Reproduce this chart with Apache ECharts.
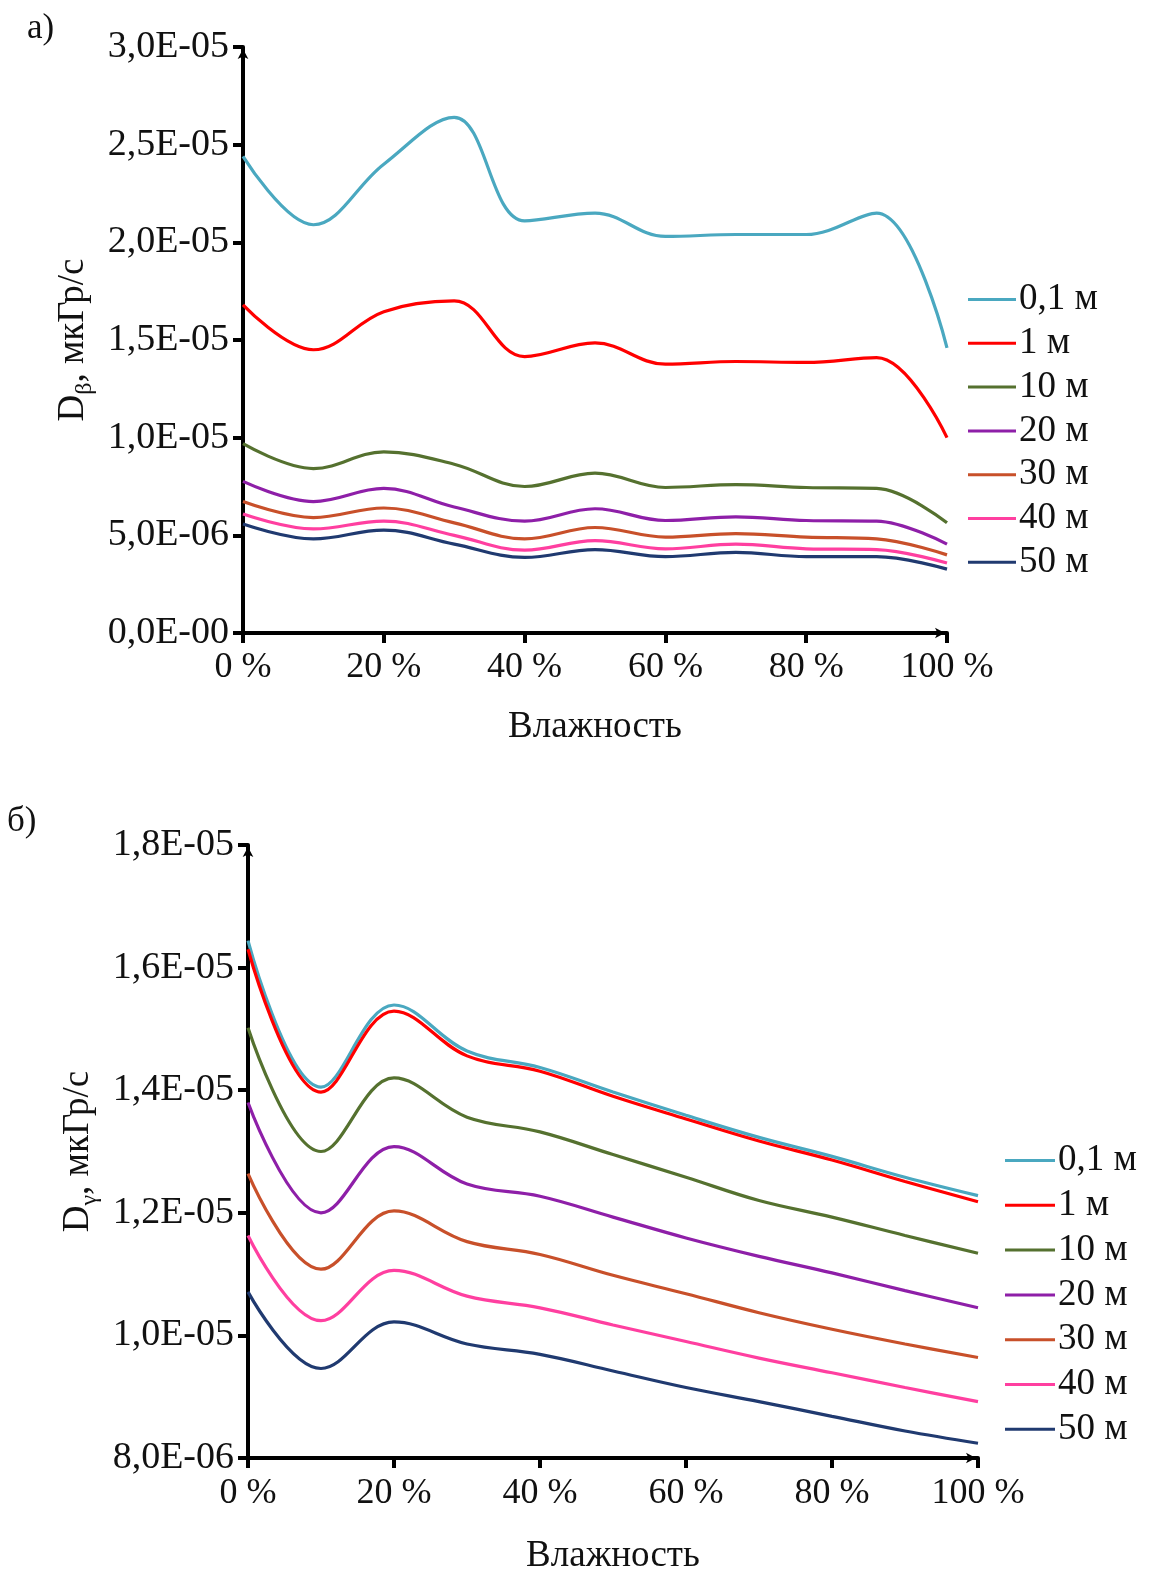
<!DOCTYPE html>
<html>
<head>
<meta charset="utf-8">
<script src="https://cdn.jsdelivr.net/npm/echarts@6/dist/echarts.min.js"></script>
<style>
html,body{margin:0;padding:0;background:#fff;overflow:hidden;}
#c{width:1155px;height:1574px;}
</style>
</head>
<body>
<div id="c"></div>
<script>
// Humidity, %
const humidity = [0, 10, 20, 30, 40, 50, 60, 70, 80, 90, 100];
const seriesNames = ['0,1 м', '1 м', '10 м', '20 м', '30 м', '40 м', '50 м'];
const xTickLabels = ['0 %', '20 %', '40 %', '60 %', '80 %', '100 %'];

// Chart а): D_beta, units of 1E-05 мкГр/с
const yTickLabelsA = ['0,0E-00', '5,0E-06', '1,0E-05', '1,5E-05', '2,0E-05', '2,5E-05', '3,0E-05'];
const betaD01 = [2.44, 2.09, 2.40, 2.64, 2.11, 2.15, 2.03, 2.04, 2.04, 2.15, 1.46];
const betaD1  = [1.68, 1.45, 1.645, 1.70, 1.415, 1.485, 1.376, 1.39, 1.385, 1.41, 1.00];
const betaD10 = [0.969, 0.842, 0.927, 0.864, 0.75, 0.818, 0.745, 0.76, 0.745, 0.74, 0.564];
const betaD20 = [0.776, 0.673, 0.74, 0.645, 0.573, 0.636, 0.576, 0.595, 0.576, 0.573, 0.455];
const betaD30 = [0.673, 0.591, 0.64, 0.564, 0.482, 0.54, 0.491, 0.509, 0.491, 0.482, 0.40];
const betaD40 = [0.609, 0.533, 0.573, 0.50, 0.424, 0.473, 0.431, 0.455, 0.431, 0.427, 0.358];
const betaD50 = [0.558, 0.482, 0.527, 0.455, 0.387, 0.427, 0.391, 0.413, 0.391, 0.391, 0.327];

// Chart б): D_gamma, units of 1E-05 мкГр/с
const yTickLabelsB = ['8,0E-06', '1,0E-05', '1,2E-05', '1,4E-05', '1,6E-05', '1,8E-05'];
const gammaD01 = [1.644, 1.405, 1.539, 1.464, 1.437, 1.397, 1.359, 1.323, 1.292, 1.258, 1.228];
const gammaD1  = [1.630, 1.397, 1.529, 1.456, 1.431, 1.390, 1.353, 1.317, 1.286, 1.251, 1.218];
const gammaD10 = [1.502, 1.300, 1.420, 1.356, 1.332, 1.295, 1.258, 1.220, 1.193, 1.163, 1.134];
const gammaD20 = [1.380, 1.200, 1.308, 1.247, 1.227, 1.193, 1.159, 1.129, 1.102, 1.073, 1.045];
const gammaD30 = [1.264, 1.108, 1.203, 1.153, 1.132, 1.098, 1.068, 1.037, 1.010, 0.986, 0.964];
const gammaD40 = [1.163, 1.024, 1.106, 1.064, 1.045, 1.017, 0.990, 0.963, 0.939, 0.915, 0.892];
const gammaD50 = [1.071, 0.946, 1.022, 0.986, 0.969, 0.942, 0.915, 0.892, 0.868, 0.844, 0.824];

const colors = ['#4AA8C0', '#FF0000', '#55712F', '#8E1FA8', '#C8502A', '#FF3FA0', '#203A70'];
const betaSets = [betaD01, betaD1, betaD10, betaD20, betaD30, betaD40, betaD50];
const gammaSets = [gammaD01, gammaD1, gammaD10, gammaD20, gammaD30, gammaD40, gammaD50];

const FONT = '"Liberation Serif", "DejaVu Serif", serif';
const SMOOTH = 0.38;

function pairs(arr) { return humidity.map((h, i) => [h, arr[i]]); }

function axisX(gridIndex, gap, margin) {
  return {
    type: 'value', gridIndex: gridIndex, min: 0, max: 100, interval: 20,
    name: 'Влажность', nameLocation: 'middle', nameGap: gap,
    nameTextStyle: { fontFamily: FONT, fontSize: 37, color: '#111' },
    axisLine: { show: true, onZero: false, lineStyle: { color: '#000', width: 4 }, symbol: ['none', 'arrow'], symbolSize: [8, 10], symbolOffset: [0, -2] },
    axisTick: { show: true, inside: false, length: 10, lineStyle: { color: '#000', width: 4 } },
    axisLabel: { fontFamily: FONT, fontSize: 36, color: '#111', margin: margin, formatter: (v) => xTickLabels[Math.round(v / 20)] },
    splitLine: { show: false }
  };
}

function axisY(gridIndex, min, max, step, labels, sym, gap) {
  return {
    type: 'value', gridIndex: gridIndex, min: min, max: max, interval: step,
    name: '{a|D}{b|' + sym + '}{a|, мкГр/с}', nameLocation: 'middle', nameGap: gap,
    nameTextStyle: {
      rich: {
        a: { fontFamily: FONT, fontSize: 37, color: '#111', lineHeight: 40, verticalAlign: 'bottom' },
        b: { fontFamily: FONT, fontSize: 24, color: '#111', verticalAlign: 'bottom', padding: [0, 0, -5, 0] }
      }
    },
    axisLine: { show: true, onZero: false, lineStyle: { color: '#000', width: 4 }, symbol: ['none', 'arrow'], symbolSize: [8, 10], symbolOffset: [0, -2] },
    axisTick: { show: true, inside: false, length: 10, lineStyle: { color: '#000', width: 4 } },
    axisLabel: { fontFamily: FONT, fontSize: 38, color: '#111', margin: 14, formatter: (v, i) => labels[i] },
    splitLine: { show: false }
  };
}

const series = [];
betaSets.forEach((d, i) => series.push({
  name: seriesNames[i], type: 'line', xAxisIndex: 0, yAxisIndex: 0,
  data: pairs(d), smooth: SMOOTH, showSymbol: false, symbol: 'none',
  lineStyle: { color: colors[i], width: 3.2 }, itemStyle: { color: colors[i] }, z: 3
}));
gammaSets.forEach((d, i) => series.push({
  name: seriesNames[i], type: 'line', xAxisIndex: 1, yAxisIndex: 1,
  data: pairs(d), smooth: SMOOTH, showSymbol: false, symbol: 'none',
  lineStyle: { color: colors[i], width: 3.2 }, itemStyle: { color: colors[i] }, z: 3
}));

function legendAt(left, top, gap, w) {
  return {
    orient: 'vertical', left: left, top: top, icon: 'rect', itemWidth: w, itemHeight: 3,
    itemGap: gap, selectedMode: false, data: seriesNames, padding: 0,
    textStyle: { fontFamily: FONT, fontSize: 37, color: '#111', lineHeight: 37, padding: [0, 0, 0, -2] }
  };
}

const chart = echarts.init(document.getElementById('c'), null, { renderer: 'canvas' });
chart.setOption({
  backgroundColor: '#fff',
  animation: false,
  title: [
    { text: 'а)', left: 27, top: 11, padding: 0, textStyle: { fontFamily: FONT, fontSize: 35, fontWeight: 'normal', color: '#111' } },
    { text: 'б)', left: 7, top: 804, padding: 0, textStyle: { fontFamily: FONT, fontSize: 35, fontWeight: 'normal', color: '#111' } }
  ],
  legend: [legendAt(968, 281, 6.8, 48), legendAt(1005, 1142, 7.8, 50)],
  grid: [
    { left: 243, top: 47, width: 704, height: 586, outerBoundsMode: 'none', containLabel: false },
    { left: 248, top: 845, width: 730, height: 613, outerBoundsMode: 'none', containLabel: false }
  ],
  xAxis: [axisX(0, 76, 17), axisX(1, 80, 18)],
  yAxis: [
    axisY(0, 0, 3, 0.5, yTickLabelsA, 'β', 149),
    axisY(1, 0.8, 1.8, 0.2, yTickLabelsB, 'γ', 150)
  ],
  series: series
});
</script>
</body>
</html>
